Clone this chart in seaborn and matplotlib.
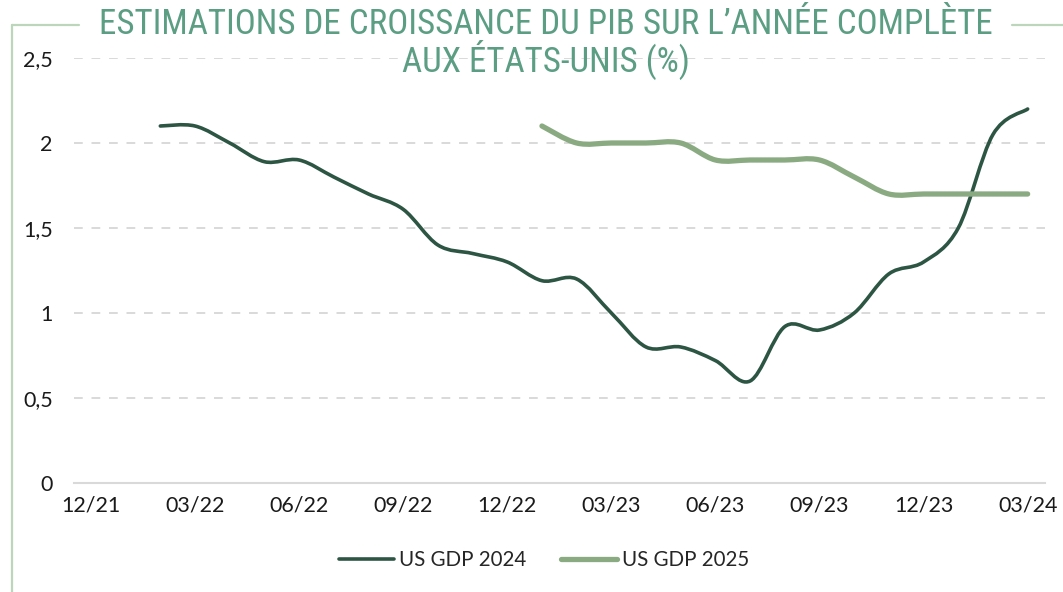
import numpy as np
import pandas as pd
import matplotlib
matplotlib.use("Agg")
import matplotlib.pyplot as plt
import seaborn as sns
from matplotlib import font_manager
from matplotlib.path import Path
from matplotlib.patches import PathPatch
from matplotlib.lines import Line2D

# ---------------- data ----------------
axis_start = "2021-12"
axis_end = "2024-03"
tick_labels = ["12/21", "03/22", "06/22", "09/22", "12/22",
               "03/23", "06/23", "09/23", "12/23", "03/24"]

gdp2024_start, gdp2024_end = "2022-02", "2024-03"
gdp2024 = [2.10, 2.10, 2.00, 1.89, 1.90, 1.80, 1.70, 1.61, 1.40, 1.35, 1.30,
           1.19, 1.20, 1.00, 0.80, 0.80, 0.72, 0.60, 0.92, 0.90, 1.00, 1.23,
           1.30, 1.50, 2.05, 2.20]

gdp2025_start, gdp2025_end = "2023-01", "2024-03"
gdp2025 = [2.10, 2.00, 2.00, 2.00, 2.00, 1.90, 1.90, 1.90, 1.90, 1.80, 1.70,
           1.70, 1.70, 1.70, 1.70]

series_names = ["US GDP 2024", "US GDP 2025"]
series_colors = ["#2D5544", "#8AAB82"]
series_widths = [2.6, 3.8]

title_line1 = "ESTIMATIONS DE CROISSANCE DU PIB SUR L\u2019ANNÉE COMPLÈTE"
title_line2 = "AUX ÉTATS-UNIS (%)"

# ---------------- helpers ----------------
base = pd.Period(axis_start, freq="M")
n_months = pd.Period(axis_end, freq="M").ordinal - base.ordinal + 1


def month_pos(start, end):
    per = pd.period_range(start, end, freq="M")
    return np.array([p.ordinal - base.ordinal + 0.5 for p in per])


def smooth_path(x, y):
    pts = np.column_stack([x, y])
    n = len(pts)
    verts = [pts[0]]
    codes = [Path.MOVETO]
    for i in range(n - 1):
        p0 = pts[i - 1] if i > 0 else pts[i]
        p1 = pts[i]
        p2 = pts[i + 1]
        p3 = pts[i + 2] if i + 2 < n else pts[i + 1]
        c1 = p1 + (p2 - p0) / 6.0
        c2 = p2 - (p3 - p1) / 6.0
        verts += [c1, c2, p2]
        codes += [Path.CURVE4] * 3
    return Path(verts, codes)


def pick_family(cands, default):
    names = {f.name for f in font_manager.fontManager.ttflist}
    for c in cands:
        if c in names:
            return c
    return default


# ---------------- figure ----------------
sns.set_theme(style="white")
plt.rcParams["font.family"] = ["Lato", "DejaVu Sans"]

W, H = 1063, 592
fig = plt.figure(figsize=(W / 100, H / 100), dpi=100)
ax = fig.add_axes([73.6 / W, 1 - 483 / H, (1045 - 73.6) / W, (483 - 58) / H])

df24 = pd.DataFrame({"pos": month_pos(gdp2024_start, gdp2024_end), "value": gdp2024})
df25 = pd.DataFrame({"pos": month_pos(gdp2025_start, gdp2025_end), "value": gdp2025})

for df, col, lw in zip([df24, df25], series_colors, series_widths):
    sns.lineplot(data=df, x="pos", y="value", ax=ax, color=col, linewidth=lw,
                 legend=False)
    ln = ax.lines[-1]
    xd, yd = ln.get_xdata(), ln.get_ydata()
    ln.remove()
    patch = PathPatch(smooth_path(xd, yd), fill=False, edgecolor=col,
                      linewidth=lw, capstyle="round", joinstyle="round", zorder=3)
    ax.add_patch(patch)

ax.set_xlim(0, n_months)
ax.set_ylim(0, 2.5)
ax.set_xlabel("")
ax.set_ylabel("")

# y axis
yt = [0, 0.5, 1.0, 1.5, 2.0, 2.5]
ax.set_yticks(yt)
ax.set_yticklabels([("%g" % v).replace(".", ",") for v in yt])
ax.tick_params(axis="y", length=0, pad=15, labelsize=15.5, labelcolor="#1a1a1a")
for v in yt[1:]:
    ax.axhline(v, color="#D9D9D9", linewidth=1.4, linestyle=(0, (4.5, 4.5)), zorder=1)

# x axis: ticks at month boundaries, labels centered in the month slot
major = np.arange(0, n_months, 3)
ax.set_xticks(major)
ax.set_xticklabels([""] * len(major))
ax.set_xticks(major + 0.5, minor=True)
ax.set_xticklabels(tick_labels, minor=True)
ax.tick_params(axis="x", which="major", length=6, width=1.4, color="#D9D9D9", direction="out")
ax.tick_params(axis="x", which="minor", length=0, pad=9, labelsize=15.5, labelcolor="#1a1a1a")

for s in ["left", "right", "top"]:
    ax.spines[s].set_visible(False)
ax.spines["bottom"].set_color("#D9D9D9")
ax.spines["bottom"].set_linewidth(1.5)
ax.grid(False)

# legend
handles = [Line2D([0], [0], color=c, linewidth=lw, solid_capstyle="round")
           for c, lw in zip(series_colors, series_widths)]
fig.legend(handles, series_names, loc="center", bbox_to_anchor=(544 / W, 1 - 560 / H),
           ncol=2, frameon=False, fontsize=14.8, handlelength=2.7, handletextpad=0.25,
           columnspacing=1.7)

# title (narrow family if available, size fitted to the reference width)
tfam = pick_family(["Liberation Sans Narrow", "DejaVu Sans Condensed",
                    "Roboto Condensed", "Open Sans Condensed", "Noto Sans Condensed"],
                   "Lato")
title_kw = dict(ha="center", va="center", color="#5B9E84", fontsize=24,
                family=[tfam, "DejaVu Sans"])
t1 = fig.text(546 / W, 1 - 24 / H, title_line1, **title_kw)
t2 = fig.text(546 / W, 1 - 60 / H, title_line2, **title_kw)
renderer = fig.canvas.get_renderer()
w1 = t1.get_window_extent(renderer).width
fs = 24 * 895.0 / w1
t1.set_fontsize(fs)
t2.set_fontsize(fs)

# frame broken by the title
frame_kw = dict(color="#BCD6BC", linewidth=1.6, transform=fig.transFigure)
fig.add_artist(Line2D([12 / W, 12 / W], [1 - 25 / H, 0], **frame_kw))
fig.add_artist(Line2D([12 / W, 79 / W], [1 - 25 / H, 1 - 25 / H], **frame_kw))
fig.add_artist(Line2D([1012 / W, 1], [1 - 25 / H, 1 - 25 / H], **frame_kw))

fig.savefig("out.png", dpi=100)
